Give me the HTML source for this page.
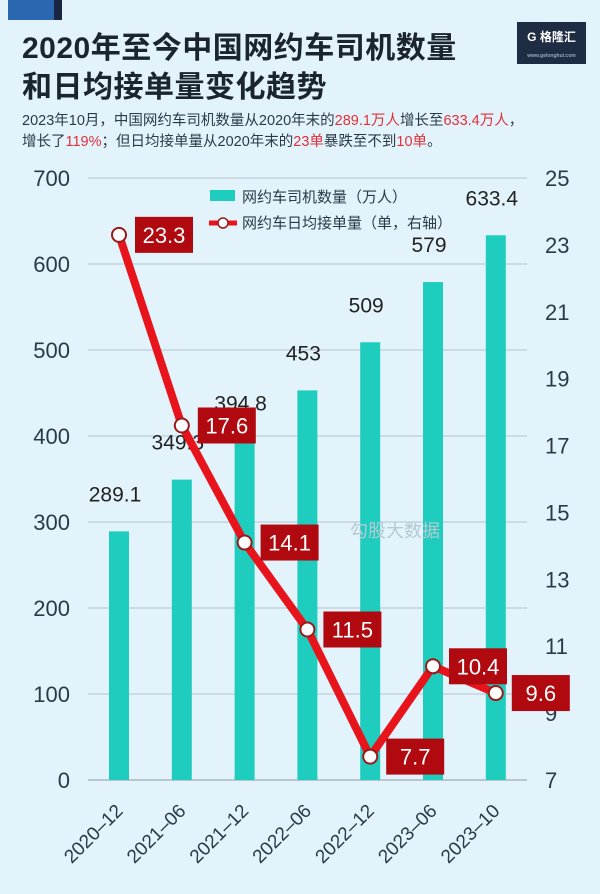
<!DOCTYPE html>
<html><head><meta charset="utf-8">
<style>
html,body{margin:0;padding:0;}
body{width:600px;height:894px;background:#e3f3fb;position:relative;overflow:hidden;font-family:"Liberation Sans","Noto Sans CJK SC",sans-serif;}
.t{position:absolute;left:22px;font-weight:bold;font-size:30px;line-height:36px;color:#1a2530;letter-spacing:0.5px;font-family:"Liberation Sans","Noto Sans CJK SC",sans-serif;}
.sub{position:absolute;left:22px;font-size:14.5px;color:#2a3a48;line-height:21px;}
.r{color:#e0303a;}
</style></head><body>
<div style="position:absolute;left:8px;top:0;width:46px;height:20px;background:#2a67b0;"></div>
<div style="position:absolute;left:54px;top:0;width:8px;height:20px;background:#1a2540;"></div>
<div style="position:absolute;left:517px;top:22px;width:69px;height:42px;background:#1e2c44;color:#fff;font-size:12px;font-weight:bold;text-align:center;line-height:30px;">G 格隆汇<div style="font-size:5px;line-height:8px;color:#9ab;">www.gelonghui.com</div></div>
<div class="t" style="top:31px;">2020年至今中国网约车司机数量</div>
<div class="t" style="top:70px;">和日均接单量变化趋势</div>
<div class="sub" style="top:111px;">2023年10月，中国网约车司机数量从2020年末的<span class="r">289.1万人</span>增长至<span class="r">633.4万人</span>，<br>增长了<span class="r">119%</span>；但日均接单量从2020年末的<span class="r">23单</span>暴跌至不到<span class="r">10单</span>。</div>
<svg id="chart" width="600" height="894" style="position:absolute;left:0;top:0;"></svg>
<script>
const categories=["2020-12","2021-06","2021-12","2022-06","2022-12","2023-06","2023-10"];
const drivers=[289.1,349.3,394.8,453,509,579,633.4];
const orders=[23.3,17.6,14.1,11.5,7.7,10.4,9.6];
const leftTicks=[0,100,200,300,400,500,600,700];
const rightTicks=[7,9,11,13,15,17,19,21,23,25];
const NS="http://www.w3.org/2000/svg";
const svg=document.getElementById('chart');
const y0=780,y1=178;
const yL=v=>y0-(v/700)*(y0-y1);
const yR=v=>y0-((v-7)/18)*(y0-y1);
const xC=i=>119+i*62.8;
function mk(tag,attrs,parent){const e=document.createElementNS(NS,tag);for(const k in attrs)e.setAttribute(k,attrs[k]);(parent||svg).appendChild(e);return e;}
leftTicks.forEach(v=>{
  const g=mk('line',{x1:88,x2:527,y1:yL(v),y2:yL(v),stroke:v===0?'#b8c6d0':'#c5d4dd','stroke-width':v===0?2:1.5});
  
  
  const t=mk('text',{x:70,y:yL(v)+8,'text-anchor':'end','font-size':22,fill:'#2a3a48','font-family':'Liberation Sans'});
  t.textContent=v;
  
  
});
rightTicks.forEach(v=>{
  const t=mk('text',{x:545,y:yR(v)+8,'font-size':22,fill:'#2a3a48','font-family':'Liberation Sans'});
  t.textContent=v;
  
  
});
drivers.forEach((v,i)=>{
  const b=mk('rect',{x:xC(i)-10,y:yL(v),width:20,height:y0-yL(v),fill:'#1fcdbf'});
  
  
  const t=mk('text',{x:xC(i)-4,y:yL(v)-30,'text-anchor':'middle','font-size':21,fill:'#222','font-family':'Liberation Sans'});
  t.textContent=v;
  
  
});
categories.forEach((c,i)=>{
  const ax=xC(i)+5, ay=812;
  const t=mk('text',{x:ax,y:ay,'text-anchor':'end','font-size':19,fill:'#2a3a48','font-family':'Liberation Sans',transform:`rotate(-45 ${ax} ${ay})`});
  t.textContent=c.replace('-','–');
  
  
});
const pts=orders.map((v,i)=>xC(i)+','+yR(v)).join(' ');
const pl=mk('polyline',{points:pts,fill:'none',stroke:'#e8141c','stroke-width':8,'stroke-linejoin':'round'});


orders.forEach((v,i)=>{
  const c=mk('circle',{cx:xC(i),cy:yR(v),r:7,fill:'#fff',stroke:'#9a1a1a','stroke-width':2});
  
  
  const bx=mk('rect',{x:xC(i)+16,y:yR(v)-18,width:58,height:36,fill:'#b0090f'});
  
  
  const t=mk('text',{x:xC(i)+45,y:yR(v)+8,'text-anchor':'middle','font-size':22,fill:'#fff','font-family':'Liberation Sans'});
  t.textContent=v;
  
  
});
const lr=mk('rect',{x:210,y:190,width:25,height:11,fill:'#1fcdbf'});


const lt=mk('text',{x:242,y:202,'font-size':15,fill:'#2a3a48','font-family':'Liberation Sans, Noto Sans CJK SC, sans-serif'});
lt.textContent='网约车司机数量（万人）';


const ll=mk('line',{x1:209,x2:237,y1:223,y2:223,stroke:'#e8141c','stroke-width':5});


const lc=mk('circle',{cx:223,cy:223,r:5,fill:'#fff',stroke:'#9a1a1a','stroke-width':1.5});


const lt2=mk('text',{x:242,y:228,'font-size':15,fill:'#2a3a48','font-family':'Liberation Sans, Noto Sans CJK SC, sans-serif'});
lt2.textContent='网约车日均接单量（单，右轴）';


const wm=mk('text',{x:350,y:537,'font-size':18,fill:'#b8c8d2','font-family':'Liberation Sans, Noto Sans CJK SC, sans-serif'});
wm.textContent='勾股大数据';


</script>
</body></html>
